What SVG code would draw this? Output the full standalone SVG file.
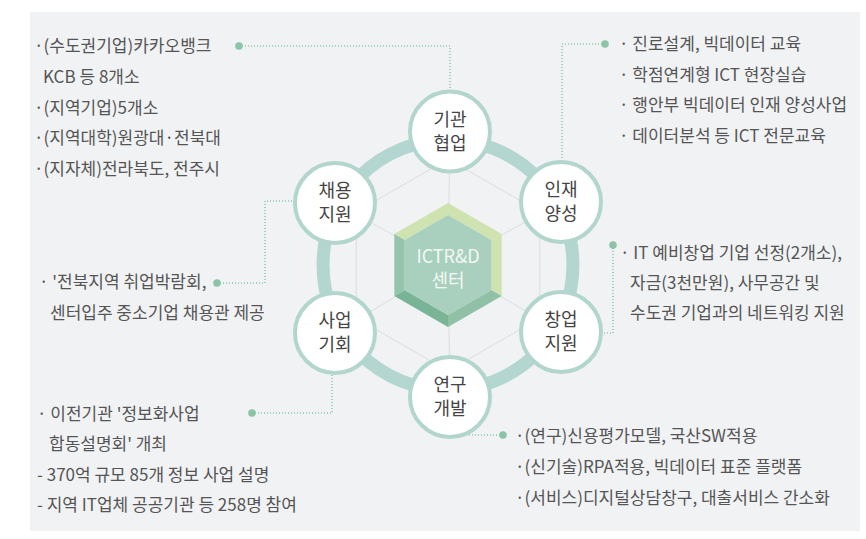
<svg xmlns="http://www.w3.org/2000/svg" width="866" height="539" viewBox="0 0 866 539">
  <style>
    .txt { font-family: "Noto Sans CJK KR", "Noto Sans", sans-serif; font-size: 17px; fill: #555; }
    .node-label { font-family: "Noto Sans CJK KR", "Noto Sans", sans-serif; font-size: 18px; fill: #444; text-anchor: middle; }
    .core-label { font-family: "Noto Sans CJK KR", "Noto Sans", sans-serif; font-size: 18px; fill: #f4f8f5; text-anchor: middle; }
    .node-circle { fill: #fff; stroke: #b2d6ce; stroke-width: 4; }
    .grid { fill: none; stroke: #dadde0; stroke-width: 1; }
    .lead { fill: none; stroke: #8cc7ab; stroke-width: 1.6; stroke-dasharray: 1 2; }
    .lead-dot { fill: #8cc4a7; }
  </style>

  <!-- panel -->
  <rect x="30" y="12" width="830" height="519" fill="#f1f2f4"/>

  <!-- thin grid: hexagon and spokes -->
  <g id="grid">
    <polygon class="grid" points="448,159 539.8,212 539.8,318 448,371 356.2,318 356.2,212"/>
    <line class="grid" x1="448" y1="265" x2="450" y2="131.5"/>
    <line class="grid" x1="448" y1="265" x2="561" y2="202"/>
    <line class="grid" x1="448" y1="265" x2="561" y2="332"/>
    <line class="grid" x1="448" y1="265" x2="450" y2="397"/>
    <line class="grid" x1="448" y1="265" x2="335" y2="333"/>
    <line class="grid" x1="448" y1="265" x2="335" y2="203"/>
  </g>

  <!-- ring -->
  <circle cx="448" cy="265" r="125" fill="none" stroke="#b4d6d0" stroke-width="13"/>

  <!-- core hexagon -->
  <g id="core">
    <polygon points="394.3,234 448,203 448,215 404.7,240" fill="#cfe3b0"/>
    <polygon points="448,203 501.7,234 491.3,240 448,215" fill="#cfe3b0"/>
    <polygon points="501.7,234 501.7,296 491.3,290 491.3,240" fill="#cfe3b0"/>
    <polygon points="501.7,296 448,327 448,315 491.3,290" fill="#90c1a6"/>
    <polygon points="448,327 394.3,296 404.7,290 448,315" fill="#79b496"/>
    <polygon points="394.3,296 394.3,234 404.7,240 404.7,290" fill="#94c4a9"/>
    <polygon points="448,215 491.3,240 491.3,290 448,315 404.7,290 404.7,240" fill="#a9cfbe"/>
    <text class="core-label" x="448" y="263">ICTR&amp;D<tspan x="448" y="287">센터</tspan></text>
  </g>

  <!-- connectors -->
  <g id="connectors">
    <path class="lead" d="M239,46 H450 V89"/>
    <circle class="lead-dot" cx="239" cy="46" r="3.8"/>
    <path class="lead" d="M605,44 H562 V160"/>
    <circle class="lead-dot" cx="605" cy="44" r="3.8"/>
    <path class="lead" d="M217,283 H265 V201 H293"/>
    <circle class="lead-dot" cx="217" cy="283" r="3.8"/>
    <path class="lead" d="M613,245 V333 H603"/>
    <circle class="lead-dot" cx="613" cy="245" r="3.8"/>
    <path class="lead" d="M252,413 H332 V375"/>
    <circle class="lead-dot" cx="252" cy="413" r="3.8"/>
    <path class="lead" d="M503,435 H469"/>
    <circle class="lead-dot" cx="503" cy="435" r="3.8"/>
  </g>

  <!-- nodes -->
  <g id="node-cooperation">
    <circle class="node-circle" cx="450" cy="131.5" r="40"/>
    <text class="node-label" x="450" y="125.5">기관<tspan x="450" y="149.5">협업</tspan></text>
  </g>
  <g id="node-talent">
    <circle class="node-circle" cx="561" cy="202" r="40"/>
    <text class="node-label" x="561" y="196">인재<tspan x="561" y="220">양성</tspan></text>
  </g>
  <g id="node-startup">
    <circle class="node-circle" cx="561" cy="332" r="40"/>
    <text class="node-label" x="561" y="326">창업<tspan x="561" y="350">지원</tspan></text>
  </g>
  <g id="node-rnd">
    <circle class="node-circle" cx="450" cy="397" r="40"/>
    <text class="node-label" x="450" y="391">연구<tspan x="450" y="415">개발</tspan></text>
  </g>
  <g id="node-business">
    <circle class="node-circle" cx="335" cy="333" r="40"/>
    <text class="node-label" x="335" y="327">사업<tspan x="335" y="351">기회</tspan></text>
  </g>
  <g id="node-employment">
    <circle class="node-circle" cx="335" cy="203" r="40"/>
    <text class="node-label" x="335" y="197">채용<tspan x="335" y="221">지원</tspan></text>
  </g>

  <!-- descriptions -->
  <g id="desc-cooperation">
    <text class="txt" x="34" y="52">·(수도권기업)카카오뱅크</text>
    <text class="txt" x="43" y="83">KCB 등 8개소</text>
    <text class="txt" x="34" y="113.5">·(지역기업)5개소</text>
    <text class="txt" x="34" y="144">·(지역대학)원광대·전북대</text>
    <text class="txt" x="34" y="175">·(지자체)전라북도, 전주시</text>
  </g>
  <g id="desc-talent">
    <text class="txt" x="619" y="50">· 진로설계, 빅데이터 교육</text>
    <text class="txt" x="619" y="81">· 학점연계형 ICT 현장실습</text>
    <text class="txt" x="619" y="111">· 행안부 빅데이터 인재 양성사업</text>
    <text class="txt" x="619" y="142">· 데이터분석 등 ICT 전문교육</text>
  </g>
  <g id="desc-employment">
    <text class="txt" x="39" y="288">· '전북지역 취업박람회,</text>
    <text class="txt" x="50" y="319">센터입주 중소기업 채용관 제공</text>
  </g>
  <g id="desc-startup">
    <text class="txt" x="620" y="259">· IT 예비창업 기업 선정(2개소),</text>
    <text class="txt" x="630" y="289">자금(3천만원), 사무공간 및</text>
    <text class="txt" x="630" y="319">수도권 기업과의 네트워킹 지원</text>
  </g>
  <g id="desc-business">
    <text class="txt" x="37" y="419.5">· 이전기관 '정보화사업</text>
    <text class="txt" x="49" y="450">합동설명회' 개최</text>
    <text class="txt" x="37" y="481">- 370억 규모 85개 정보 사업 설명</text>
    <text class="txt" x="37" y="511">- 지역 IT업체 공공기관 등 258명 참여</text>
  </g>
  <g id="desc-rnd">
    <text class="txt" x="515" y="442">·(연구)신용평가모델, 국산SW적용</text>
    <text class="txt" x="515" y="473">·(신기술)RPA적용, 빅데이터 표준 플랫폼</text>
    <text class="txt" x="515" y="504">·(서비스)디지털상담창구, 대출서비스 간소화</text>
  </g>
</svg>
